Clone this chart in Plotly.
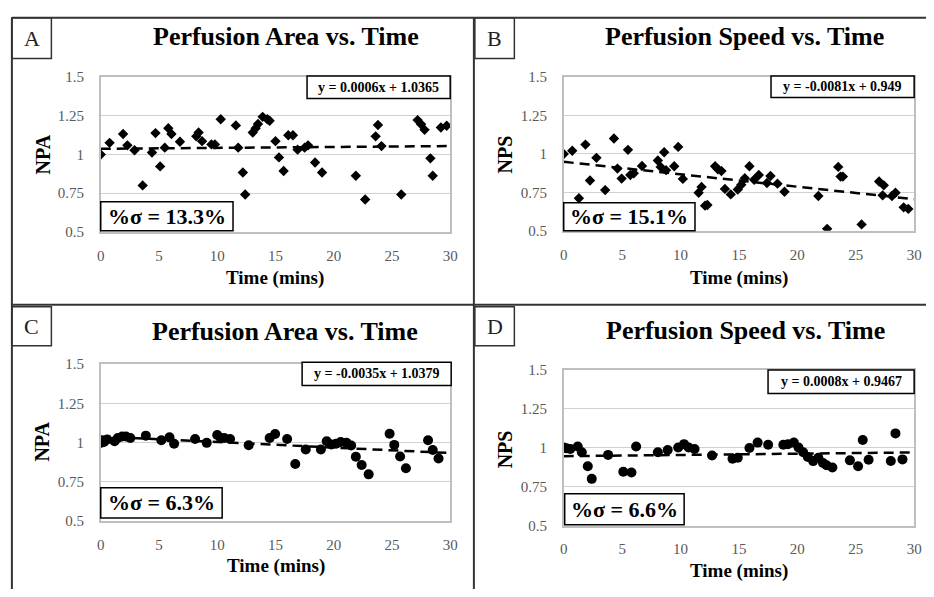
import plotly.graph_objects as go

# ---- data -------------------------------------------------------------
# Panel A: normalised perfusion area (diamonds)
a_time = [0, 0.76, 1.92, 2.29, 2.9, 3.6, 4.4, 4.7, 5.1, 5.5, 5.8, 6.07, 6.8,
          8.2, 8.4, 8.7, 9.5, 9.8, 10.3, 11.6, 11.8, 12.2, 12.4, 13.05, 13.3,
          13.5, 13.9, 14.3, 14.5, 15.0, 15.3, 15.7, 16.1, 16.5, 16.9, 17.5,
          17.8, 18.4, 19.0, 21.9, 22.7, 23.6, 23.8, 24.1, 25.8, 27.2, 27.5,
          27.8, 28.3, 28.5, 29.2, 29.7]
a_npa = [1.0, 1.075, 1.132, 1.059, 1.027, 0.80, 1.013, 1.138, 0.923, 1.044,
         1.169, 1.132, 1.082, 1.117, 1.142, 1.086, 1.065, 1.065, 1.228, 1.188,
         1.044, 0.883, 0.741, 1.142, 1.169, 1.197, 1.243, 1.228, 1.218, 1.086,
         0.981, 0.893, 1.124, 1.124, 1.031, 1.044, 1.059, 0.948, 0.883, 0.862,
         0.709, 1.117, 1.190, 1.054, 0.741, 1.222, 1.195, 1.159, 0.975, 0.862,
         1.174, 1.186]

# Panel B: normalised perfusion speed (diamonds)
b_time = [0, 0.73, 1.3, 1.86, 2.25, 2.8, 3.55, 4.3, 4.6, 4.96, 5.5, 5.7, 6.0,
          6.7, 8.06, 8.3, 8.6, 8.76, 9.46, 9.8, 10.2, 11.55, 11.8, 12.1, 12.3,
          12.96, 13.2, 13.5, 13.8, 14.3, 14.9, 15.2, 15.5, 15.9, 16.3, 16.7,
          17.4, 17.7, 18.3, 18.9, 21.8, 22.55, 23.5, 23.7, 23.9, 25.5, 27.0,
          27.4, 27.3, 28.1, 28.4, 29.1, 29.5]
b_nps = [1.0, 1.021, 0.712, 1.061, 0.828, 0.975, 0.765, 1.101, 0.905, 0.840,
         1.027, 0.863, 0.874, 0.922, 0.958, 0.916, 1.011, 0.895, 0.920, 1.046,
         0.838, 0.748, 0.786, 0.664, 0.668, 0.920, 0.901, 0.889, 0.773, 0.737,
         0.769, 0.800, 0.842, 0.920, 0.832, 0.863, 0.811, 0.857, 0.807, 0.754,
         0.727, 0.513, 0.916, 0.853, 0.853, 0.542, 0.821, 0.796, 0.731, 0.727,
         0.748, 0.653, 0.643]

# Panel C: normalised perfusion area (circles)
c_time = [0, 0.28, 0.56, 1.19, 1.47, 1.84, 2.17, 2.54, 3.87, 5.2, 5.9, 6.3,
          8.1, 9.1, 10.0, 10.3, 10.6, 11.1, 12.7, 14.5, 14.97, 16.0, 16.7,
          17.6, 18.9, 19.4, 19.8, 20.2, 20.6, 21.1, 21.5, 21.9, 22.4, 23.0,
          24.8, 25.2, 25.7, 26.2, 28.1, 28.5, 29.0]
c_npa = [0.998, 1.004, 1.019, 1.008, 1.029, 1.039, 1.039, 1.029, 1.044, 1.015,
         1.033, 0.992, 1.023, 0.998, 1.048, 1.029, 1.029, 1.023, 0.983, 1.029,
         1.054, 1.023, 0.863, 0.956, 0.956, 1.008, 0.988, 0.992, 1.004, 0.998,
         0.981, 0.909, 0.857, 0.797, 1.056, 0.985, 0.911, 0.836, 1.015, 0.952,
         0.898]

# Panel D: normalised perfusion speed (circles)
d_time = [0, 0.23, 0.56, 1.2, 1.55, 2.06, 2.4, 3.8, 5.1, 5.8, 6.2, 8.06, 8.9,
          9.8, 10.3, 10.7, 11.2, 12.7, 14.45, 14.9, 15.9, 16.6, 17.5, 18.8,
          19.2, 19.7, 20.1, 20.5, 20.9, 21.35, 21.8, 22.2, 22.5, 23.0, 24.5,
          25.2, 25.6, 26.1, 28.0, 28.4, 29.0]
d_nps = [1.003, 0.997, 0.993, 1.009, 0.972, 0.882, 0.801, 0.955, 0.847, 0.842,
         1.009, 0.972, 0.986, 1.003, 1.024, 1.003, 0.993, 0.951, 0.930, 0.937,
         0.999, 1.034, 1.020, 1.020, 1.024, 1.034, 1.003, 0.972, 0.941, 0.915,
         0.937, 0.903, 0.888, 0.874, 0.920, 0.882, 1.051, 0.924, 0.916, 1.093,
         0.926]

# Linear fits and variability shown on each panel
fit_slope = [0.0006, -0.0081, -0.0035, 0.0008]
fit_intercept = [1.0365, 0.949, 1.0379, 0.9467]
fit_labels = ["y = 0.0006x + 1.0365", "y = -0.0081x + 0.949",
              "y = -0.0035x + 1.0379", "y = 0.0008x + 0.9467"]
sigma_labels = ["%σ = 13.3%", "%σ = 15.1%", "%σ = 6.3%", "%σ = 6.6%"]
panel_letters = ["A", "B", "C", "D"]
panel_titles = ["Perfusion Area vs. Time", "Perfusion Speed vs. Time",
                "Perfusion Area vs. Time", "Perfusion Speed vs. Time"]
y_titles = ["NPA", "NPS", "NPA", "NPS"]
x_title = "Time (mins)"
x_ticks = [0, 5, 10, 15, 20, 25, 30]
y_ticks = [0.5, 0.75, 1, 1.25, 1.5]
y_tick_text = ["0.5", "0.75", "1", "1.25", "1.5"]

# ---- geometry (pixels on a 934 x 597 canvas) -------------------------
W, H = 934, 597
SERIF = "Liberation Serif"


def px(x):
    return x / W


def py(y):
    return 1 - y / H


# plot-area boxes: (left, right, top, bottom) in pixels
plot_boxes = [(98, 452, 71, 230), (567, 922, 71, 229),
              (98, 452, 366, 527), (567, 922, 372, 532)]
eq_boxes = [(307, 452, 70, 93), (777, 922, 70, 92),
            (302, 453, 364, 388), (774, 922, 372, 396)]
sigma_boxes = [(98, 232, 199, 229), (567, 700, 200, 229),
               (98, 221, 493, 524), (568, 689, 499, 531)]
letter_boxes = [(8, 48, 10, 52), (477, 517, 10, 52),
                (8, 48, 307, 347), (477, 517, 307, 347)]
title_pos = [(286, 29), (750, 29), (285, 332), (751, 331)]
xtitle_pos = [(275, 277), (745, 277), (276, 573), (745, 579)]
ytitle_pos = [(39, 150), (507, 150), (39, 445), (507, 453)]

series = [(a_time, a_npa, "diamond", 8), (b_time, b_nps, "diamond", 8),
          (c_time, c_npa, "circle", 10), (d_time, d_nps, "circle", 10)]

fig = go.Figure()
layout = dict(width=W, height=H, autosize=False,
              margin=dict(l=0, r=0, t=0, b=0),
              paper_bgcolor="white", plot_bgcolor="white",
              showlegend=False)
shapes, annotations = [], []

for i in range(4):
    n = "" if i == 0 else str(i + 1)
    xa, ya = "x" + n, "y" + n
    l, r, t, b = plot_boxes[i]
    layout["xaxis" + n] = dict(
        domain=[px(l), px(r)], range=[0, 30], anchor=ya,
        tickvals=x_ticks, showgrid=False, zeroline=False,
        showline=True, mirror=True, linecolor="#bfbfbf", linewidth=1.5,
        ticks="outside", ticklen=9, tickcolor="rgba(0,0,0,0)",
        tickfont=dict(family=SERIF, size=15, color="#595959"))
    layout["yaxis" + n] = dict(
        domain=[py(b), py(t)], range=[0.5, 1.5], anchor=xa,
        tickvals=y_ticks, ticktext=y_tick_text,
        showgrid=True, gridcolor="#d0d0d0", gridwidth=1.2, zeroline=False,
        showline=True, mirror=True, linecolor="#bfbfbf", linewidth=1.5,
        ticks="outside", ticklen=12, tickcolor="rgba(0,0,0,0)",
        tickfont=dict(family=SERIF, size=15, color="#595959"))

    xs, ys, sym, size = series[i]
    fig.add_trace(go.Scatter(
        x=xs, y=ys, mode="markers", xaxis=xa, yaxis=ya,
        marker=dict(symbol=sym, size=size, color="black",
                    line=dict(width=0))))
    # linear trend line from the fitted equation
    fx = [0, 30]
    fy = [fit_slope[i] * v + fit_intercept[i] for v in fx]
    fig.add_trace(go.Scatter(
        x=fx, y=fy, mode="lines", xaxis=xa, yaxis=ya,
        line=dict(color="black", width=2.5, dash="10px,6px")))

    # equation box
    el, er, et, eb = eq_boxes[i]
    shapes.append(dict(type="rect", xref="paper", yref="paper",
                       x0=px(el), x1=px(er), y0=py(eb), y1=py(et),
                       line=dict(color="black", width=1.5),
                       fillcolor="white", layer="above"))
    annotations.append(dict(xref="paper", yref="paper",
                            x=px((el + er) / 2), y=py((et + eb) / 2),
                            text="<b>%s</b>" % fit_labels[i], showarrow=False,
                            font=dict(family=SERIF, size=14, color="black"),
                            xanchor="center", yanchor="middle"))
    # %sigma box
    sl, sr, st, sb = sigma_boxes[i]
    shapes.append(dict(type="rect", xref="paper", yref="paper",
                       x0=px(sl), x1=px(sr), y0=py(sb), y1=py(st),
                       line=dict(color="black", width=1.5),
                       fillcolor="white", layer="above"))
    annotations.append(dict(xref="paper", yref="paper",
                            x=px((sl + sr) / 2), y=py((st + sb) / 2),
                            text="<b>%s</b>" % sigma_labels[i], showarrow=False,
                            font=dict(family=SERIF, size=22, color="black"),
                            xanchor="center", yanchor="middle"))
    # panel letter box
    ll, lr, lt, lb = letter_boxes[i]
    shapes.append(dict(type="rect", xref="paper", yref="paper",
                       x0=px(ll), x1=px(lr), y0=py(lb), y1=py(lt),
                       line=dict(color="#333333", width=1.5),
                       fillcolor="white", layer="above"))
    annotations.append(dict(xref="paper", yref="paper",
                            x=px((ll + lr) / 2), y=py((lt + lb) / 2),
                            text=panel_letters[i], showarrow=False,
                            font=dict(family=SERIF, size=22, color="#222222"),
                            xanchor="center", yanchor="middle"))
    # panel title
    tx, ty = title_pos[i]
    annotations.append(dict(xref="paper", yref="paper", x=px(tx), y=py(ty),
                            text="<b>%s</b>" % panel_titles[i], showarrow=False,
                            font=dict(family=SERIF, size=26, color="black"),
                            xanchor="center", yanchor="middle"))
    # axis titles
    qx, qy = xtitle_pos[i]
    annotations.append(dict(xref="paper", yref="paper", x=px(qx), y=py(qy),
                            text="<b>%s</b>" % x_title, showarrow=False,
                            font=dict(family=SERIF, size=19, color="black"),
                            xanchor="center", yanchor="middle"))
    vx, vy = ytitle_pos[i]
    annotations.append(dict(xref="paper", yref="paper", x=px(vx), y=py(vy),
                            text="<b>%s</b>" % y_titles[i], showarrow=False,
                            textangle=-90,
                            font=dict(family=SERIF, size=20, color="black"),
                            xanchor="center", yanchor="middle"))

# frame lines separating the four panels
frame = [(8, 10, W, 10), (8, 10, 8, H), (476, 10, 476, H), (8, 305, W, 305)]
for x0, y0, x1, y1 in frame:
    shapes.append(dict(type="line", xref="paper", yref="paper",
                       x0=px(x0), y0=py(y0), x1=px(x1), y1=py(y1),
                       line=dict(color="#333333", width=2), layer="above"))

layout["shapes"] = shapes
layout["annotations"] = annotations
fig.update_layout(**layout)
fig.write_html("out.html")
